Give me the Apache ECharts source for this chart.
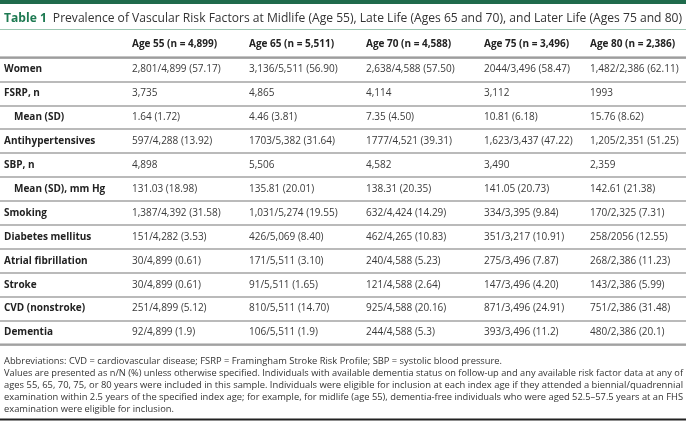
<!DOCTYPE html>
<html>
<head>
<meta charset="utf-8">
<script src="https://cdn.jsdelivr.net/npm/echarts@6/dist/echarts.min.js"></script>
<style>
  html, body { margin: 0; padding: 0; background: #fff; }
  #main { width: 686px; height: 421px; }
</style>
</head>
<body>
<div id="main"></div>
<script>
const headers = ["Age 55 (n = 4,899)", "Age 65 (n = 5,511)", "Age 70 (n = 4,588)", "Age 75 (n = 3,496)", "Age 80 (n = 2,386)"];
const rowLabels = ["Women", "FSRP, n", "Mean (SD)", "Antihypertensives", "SBP, n", "Mean (SD), mm Hg",
  "Smoking", "Diabetes mellitus", "Atrial fibrillation", "Stroke", "CVD (nonstroke)", "Dementia"];
const indentedRows = ["Mean (SD)", "Mean (SD), mm Hg"];

const age55 = ["2,801/4,899 (57.17)", "3,735", "1.64 (1.72)", "597/4,288 (13.92)", "4,898", "131.03 (18.98)",
  "1,387/4,392 (31.58)", "151/4,282 (3.53)", "30/4,899 (0.61)", "30/4,899 (0.61)", "251/4,899 (5.12)", "92/4,899 (1.9)"];
const age65 = ["3,136/5,511 (56.90)", "4,865", "4.46 (3.81)", "1703/5,382 (31.64)", "5,506", "135.81 (20.01)",
  "1,031/5,274 (19.55)", "426/5,069 (8.40)", "171/5,511 (3.10)", "91/5,511 (1.65)", "810/5,511 (14.70)", "106/5,511 (1.9)"];
const age70 = ["2,638/4,588 (57.50)", "4,114", "7.35 (4.50)", "1777/4,521 (39.31)", "4,582", "138.31 (20.35)",
  "632/4,424 (14.29)", "462/4,265 (10.83)", "240/4,588 (5.23)", "121/4,588 (2.64)", "925/4,588 (20.16)", "244/4,588 (5.3)"];
const age75 = ["2044/3,496 (58.47)", "3,112", "10.81 (6.18)", "1,623/3,437 (47.22)", "3,490", "141.05 (20.73)",
  "334/3,395 (9.84)", "351/3,217 (10.91)", "275/3,496 (7.87)", "147/3,496 (4.20)", "871/3,496 (24.91)", "393/3,496 (11.2)"];
const age80 = ["1,482/2,386 (62.11)", "1993", "15.76 (8.62)", "1,205/2,351 (51.25)", "2,359", "142.61 (21.38)",
  "170/2,325 (7.31)", "258/2056 (12.55)", "268/2,386 (11.23)", "143/2,386 (5.99)", "751/2,386 (31.48)", "480/2,386 (20.1)"];

const titleLabel = "Table 1";
const titleText = "Prevalence of Vascular Risk Factors at Midlife (Age 55), Late Life (Ages 65 and 70), and Later Life (Ages 75 and 80)";
const footnotes = [
  "Abbreviations: CVD = cardiovascular disease; FSRP = Framingham Stroke Risk Profile; SBP = systolic blood pressure.",
  "Values are presented as n/N (%) unless otherwise specified. Individuals with available dementia status on follow-up and any available risk factor data at any of",
  "ages 55, 65, 70, 75, or 80 years were included in this sample. Individuals were eligible for inclusion at each index age if they attended a biennial/quadrennial",
  "examination within 2.5 years of the specified index age; for example, for midlife (age 55), dementia-free individuals who were aged 52.5–57.5 years at an FHS",
  "examination were eligible for inclusion."
];
const justified = [false, true, true, true, false];

// layout
const colX = [4, 132, 249, 366, 484, 590];
const FONT = '"Open Sans", "DejaVu Sans", sans-serif';
const textColor = "#3a3a3a";

const columns = [age55, age65, age70, age75, age80];
const cells = [];
rowLabels.forEach((lab, r) => {
  cells.push({ c: 0, r: r, text: lab });
  columns.forEach((col, i) => cells.push({ c: i + 1, r: r, text: col[r] }));
});

// measure text so the title and the justified footnote lines fill the width
const ctx = document.createElement("canvas").getContext("2d");
function textW(t, font) {
  ctx.font = font;
  return ctx.measureText(t).width;
}
const fnFont = "9px " + FONT;
const fitScales = footnotes.map(t => 679 / textW(t, fnFont));
const avgScale = (fitScales[1] + fitScales[2] + fitScales[3]) / 3;

// title: "Table 1" bold + gap + normal text ends near x=682
const titleW13 = textW(titleLabel, "bold 13px " + FONT) + 6 + textW(titleText, "13px " + FONT);
const titleSize = Math.min(13, 13 * 678 / titleW13);
const labelW = textW(titleLabel, "bold " + titleSize + "px " + FONT);

const chart = echarts.init(document.getElementById("main"));

const graphics = [
  { type: "rect", shape: { x: 0, y: 0, width: 686, height: 4 }, style: { fill: "#1f6b4c" } },
  {
    type: "text", x: 4, y: 19,
    style: { text: titleLabel, fontFamily: FONT, fontSize: titleSize, fontWeight: "bold", fill: "#1e7a52", verticalAlign: "middle" }
  },
  {
    type: "text", x: 4 + labelW + 6, y: 19,
    style: { text: titleText, fontFamily: FONT, fontSize: titleSize, fill: "#333", verticalAlign: "middle" }
  },
  { type: "line", shape: { x1: 0, y1: 29.5, x2: 686, y2: 29.5 }, style: { stroke: "#9cc7b2", lineWidth: 1 } },
  { type: "line", shape: { x1: 0, y1: 57.5, x2: 686, y2: 57.5 }, style: { stroke: "#8a8a8a", lineWidth: 2 } },
  { type: "line", shape: { x1: 0, y1: 344.5, x2: 686, y2: 344.5 }, style: { stroke: "#9a9a9a", lineWidth: 2 } },
  { type: "line", shape: { x1: 0, y1: 419.5, x2: 686, y2: 419.5 }, style: { stroke: "#222", lineWidth: 2 } }
];
headers.forEach((h, i) => {
  graphics.push({
    type: "text", x: colX[i + 1], y: 44,
    style: { text: h, fontFamily: FONT, fontSize: 10, fontWeight: "bold", fill: "#222", verticalAlign: "middle" }
  });
});
footnotes.forEach((t, i) => {
  graphics.push({
    type: "text", x: 4, y: 361 + i * 12,
    scaleX: justified[i] ? fitScales[i] : avgScale,
    style: { text: t, font: fnFont, fill: "#333", verticalAlign: "middle" }
  });
});

const option = {
  animation: false,
  grid: { left: 0, right: 0, top: 57.5, bottom: 76.5 },
  xAxis: { type: "value", min: 0, max: 6, show: false },
  yAxis: {
    type: "category",
    data: rowLabels,
    inverse: true,
    axisLine: { show: false },
    axisTick: { show: false },
    axisLabel: { show: false },
    splitLine: { show: true, lineStyle: { color: "#a3a3a3", width: 1.5 } }
  },
  series: [{
    type: "custom",
    data: cells.map(d => [d.c, d.r]),
    renderItem: function (params, api) {
      const cell = cells[params.dataIndex];
      const y = api.coord([0, api.value(1)])[1];
      const isLabel = cell.c === 0;
      const indent = isLabel && indentedRows.indexOf(cell.text) >= 0 ? 10 : 0;
      return {
        type: "text",
        x: colX[cell.c] + indent,
        y: y,
        style: {
          text: cell.text,
          fontFamily: FONT,
          fontSize: 10,
          fontWeight: isLabel ? "bold" : "normal",
          fill: isLabel ? "#222" : textColor,
          verticalAlign: "middle"
        }
      };
    }
  }],
  graphic: graphics
};
chart.setOption(option);
</script>
</body>
</html>
